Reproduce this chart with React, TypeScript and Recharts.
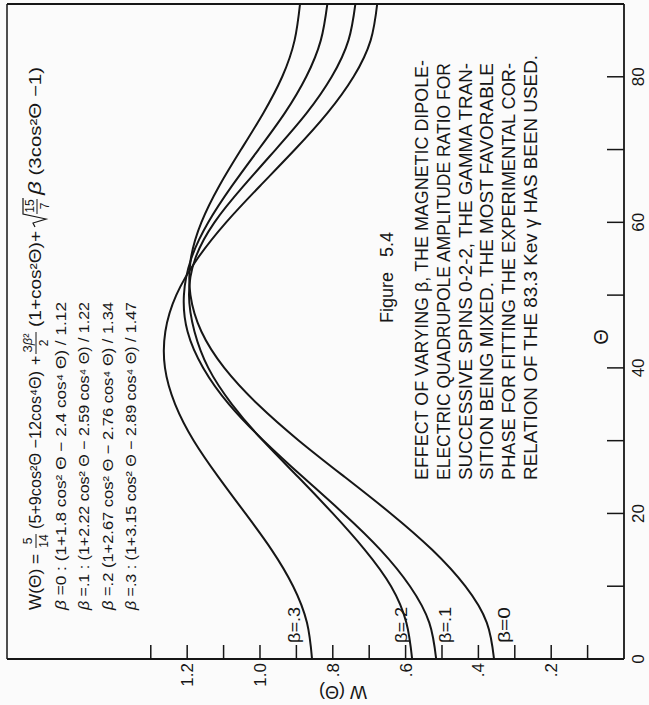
import React from 'react';
import { LineChart, Line, XAxis, YAxis, ReferenceLine } from 'recharts';

// ---- data (W(Θ) versus Θ in degrees) ----
const THETA = [0, 5, 10, 15, 20, 25, 30, 35, 40, 45, 50, 55, 60, 65, 70, 75, 80, 85, 90];
const BETA_0 = [0.357, 0.377, 0.436, 0.527, 0.641, 0.767, 0.893, 1.006, 1.098, 1.161, 1.191, 1.19, 1.161, 1.112, 1.052, 0.991, 0.939, 0.905, 0.89];
const BETA_1 = [0.516, 0.535, 0.588, 0.669, 0.771, 0.882, 0.99, 1.085, 1.156, 1.199, 1.209, 1.189, 1.142, 1.077, 1.004, 0.932, 0.873, 0.833, 0.815];
const BETA_2 = [0.582, 0.598, 0.64, 0.712, 0.8, 0.895, 0.992, 1.077, 1.142, 1.18, 1.195, 1.178, 1.125, 1.045, 0.957, 0.872, 0.803, 0.757, 0.738];
const BETA_3 = [0.857, 0.871, 0.909, 0.968, 1.04, 1.114, 1.182, 1.233, 1.261, 1.26, 1.23, 1.172, 1.093, 1.0, 0.904, 0.815, 0.743, 0.696, 0.678];

const THETA_TICKS = [0, 10, 20, 30, 40, 50, 60, 70, 80];
const THETA_TICK_LABELS = ['0', '', '20', '', '40', '', '60', '', '80'];
const W_TICKS = [0.1, 0.2, 0.3, 0.4, 0.5, 0.6, 0.7, 0.8, 0.9, 1.0, 1.1, 1.2, 1.3];
const W_TICK_LABELS = ['', '.2', '', '.4', '', '.6', '', '.8', '', '1.0', '', '1.2', ''];
const THETA_MAX = 90;
const W_MAX = 1.695;

const SERIES_KEYS = ['b0', 'b1', 'b2', 'b3'];
const SERIES_LABELS = ['β=0', 'β=.1', 'β=.2', 'β=.3'];

const CAPTION = [
  'EFFECT OF VARYING β, THE MAGNETIC DIPOLE-',
  'ELECTRIC QUADRUPOLE AMPLITUDE RATIO FOR',
  'SUCCESSIVE SPINS 0-2-2, THE GAMMA TRAN-',
  'SITION BEING MIXED. THE MOST FAVORABLE',
  'PHASE FOR FITTING THE EXPERIMENTAL COR-',
  'RELATION OF THE 83.3 Kev γ HAS BEEN USED.',
];

const FORMULA_LINES = [
  '=0 : (1+1.8 cos² Θ  − 2.4 cos⁴  Θ) / 1.12',
  '=.1 : (1+2.22 cos² Θ  − 2.59 cos⁴ Θ) / 1.22',
  '=.2   (1+2.67 cos² Θ  − 2.76 cos⁴ Θ) / 1.34',
  '=.3 : (1+3.15 cos² Θ  − 2.89 cos⁴ Θ) / 1.47',
];

const data = THETA.map((t, i) => ({ theta: t, b0: BETA_0[i], b1: BETA_1[i], b2: BETA_2[i], b3: BETA_3[i] }));

const INK = '#161616';
const FONT = '"Liberation Sans", "DejaVu Sans", Arial, sans-serif';

function ThetaTick(props: any) {
  const { x, y, payload } = props;
  const i = THETA_TICKS.indexOf(payload.value);
  const label = i >= 0 ? THETA_TICK_LABELS[i] : '';
  return (
    <g>
      {payload.value !== 0 && <line x1={x} y1={y} x2={x} y2={y - 17} stroke={INK} strokeWidth={1.5} />}
      {label && (
        <text x={x} y={y + 20} textAnchor="middle" fontSize={17} fontFamily={FONT} fill={INK}>
          {label}
        </text>
      )}
    </g>
  );
}

function WTick(props: any) {
  const { x, y, payload } = props;
  const i = W_TICKS.findIndex((v) => Math.abs(v - payload.value) < 1e-6);
  const label = i >= 0 ? W_TICK_LABELS[i] : '';
  return (
    <g>
      <line x1={x} y1={y} x2={x + 14} y2={y} stroke={INK} strokeWidth={1.5} />
      {label && (
        <text x={x - 4} y={y + 6} textAnchor="end" fontSize={17} fontFamily={FONT} fill={INK}>
          {label}
        </text>
      )}
    </g>
  );
}

function Overlay() {
  const t = { fontFamily: FONT, fill: INK } as any;
  const fBase = 41;
  return (
    <svg width={705} height={649} style={{ position: 'absolute', left: 0, top: 0, pointerEvents: 'none' }}>
      {/* main formula */}
      <text x={95} y={fBase} fontSize={16} textLength={56} lengthAdjust="spacingAndGlyphs" {...t}>W(Θ) =</text>
      <text x={164} y={32} fontSize={12} textAnchor="middle" {...t}>5</text>
      <line x1={157} x2={171} y1={36} y2={36} stroke={INK} strokeWidth={1} />
      <text x={164} y={48} fontSize={12} textAnchor="middle" {...t}>14</text>
      <text x={176} y={fBase} fontSize={16} textLength={158} lengthAdjust="spacingAndGlyphs" {...t}>(5+9cos²Θ −12cos⁴Θ)</text>
      <text x={340} y={fBase} fontSize={16} {...t}>+</text>
      <text x={362} y={32} fontSize={13} textAnchor="middle" {...t}>3<tspan fontStyle="italic">β</tspan>²</text>
      <line x1={351} x2={373} y1={36} y2={36} stroke={INK} strokeWidth={1} />
      <text x={362} y={48} fontSize={12} textAnchor="middle" {...t}>2</text>
      <text x={378} y={fBase} fontSize={16} textLength={96} lengthAdjust="spacingAndGlyphs" {...t}>(1+cos²Θ)+</text>
      <path d="M478 35 L482 33 L486 46 L491 23 L507 23" fill="none" stroke={INK} strokeWidth={1.2} />
      <text x={499} y={34} fontSize={12} textAnchor="middle" {...t}>15</text>
      <line x1={491} x2={506} y1={37} y2={37} stroke={INK} strokeWidth={1} />
      <text x={499} y={49} fontSize={12} textAnchor="middle" {...t}>7</text>
      <text x={510} y={fBase} fontSize={16} textLength={128} lengthAdjust="spacingAndGlyphs" {...t}>
        <tspan fontStyle="italic" fontSize={19}>β</tspan> (3cos²Θ −1)
      </text>

      {/* per-beta formulas */}
      {FORMULA_LINES.map((ln, i) => (
        <text key={i} x={95} y={66 + i * 23.3} fontSize={15} textLength={308} lengthAdjust="spacingAndGlyphs" {...t}>
          <tspan fontStyle="italic">β</tspan> {ln}
        </text>
      ))}

      {/* curve labels */}
      {SERIES_LABELS.map((lab, i) => (
        <text key={lab} x={62} y={[510, 451, 407, 300][i]} fontSize={17} textLength={36} lengthAdjust="spacingAndGlyphs" {...t}>
          {lab}
        </text>
      ))}

      {/* figure caption */}
      <text x={382} y={393} fontSize={18} {...t}>Figure</text>
      <text x={448} y={393} fontSize={18} {...t}>5.4</text>
      {CAPTION.map((ln, i) => (
        <text key={i} x={225} y={428 + i * 21.8} fontSize={18} textLength={i === 5 ? 425 : i === 0 ? 420 : 417} lengthAdjust="spacingAndGlyphs" {...t}>
          {ln}
        </text>
      ))}

      {/* axis titles */}
      <text x={368} y={608} fontSize={20} textAnchor="middle" {...t}>Θ</text>
      <text transform="translate(19,343) rotate(-90)" fontSize={18} textAnchor="middle" {...t}>W (Θ)</text>
    </svg>
  );
}

export default function App() {
  return (
    <div style={{ position: 'fixed', left: 0, top: 0, width: 649, height: 705, overflow: 'hidden', background: '#fbfbfb' }}>
      <div
        style={{
          position: 'absolute',
          left: 0,
          top: 0,
          width: 705,
          height: 649,
          transformOrigin: '0 0',
          transform: 'translateY(705px) rotate(-90deg)',
        }}
      >
        <LineChart width={705} height={649} data={data} margin={{ top: 7, right: 4, bottom: 0, left: 0 }}>
          <XAxis
            dataKey="theta"
            type="number"
            domain={[0, THETA_MAX]}
            ticks={THETA_TICKS}
            interval={0}
            height={25}
            tickSize={0}
            tickMargin={0}
            tickLine={false}
            tick={<ThetaTick />}
            axisLine={{ stroke: INK, strokeWidth: 1.8 }}
            allowDataOverflow
          />
          <YAxis
            type="number"
            domain={[0, W_MAX]}
            ticks={W_TICKS}
            interval={0}
            width={46}
            tickSize={0}
            tickMargin={0}
            tickLine={false}
            tick={<WTick />}
            axisLine={{ stroke: INK, strokeWidth: 1.8 }}
            allowDataOverflow
          />
          <ReferenceLine x={THETA_MAX} stroke={INK} strokeWidth={1.8} ifOverflow="visible" />
          <ReferenceLine y={W_MAX} stroke={INK} strokeWidth={1.5} ifOverflow="visible" />
          {SERIES_KEYS.map((k) => (
            <Line
              key={k}
              dataKey={k}
              type="natural"
              stroke={INK}
              strokeWidth={2}
              dot={false}
              activeDot={false}
              isAnimationActive={false}
            />
          ))}
        </LineChart>
        <Overlay />
      </div>
    </div>
  );
}
